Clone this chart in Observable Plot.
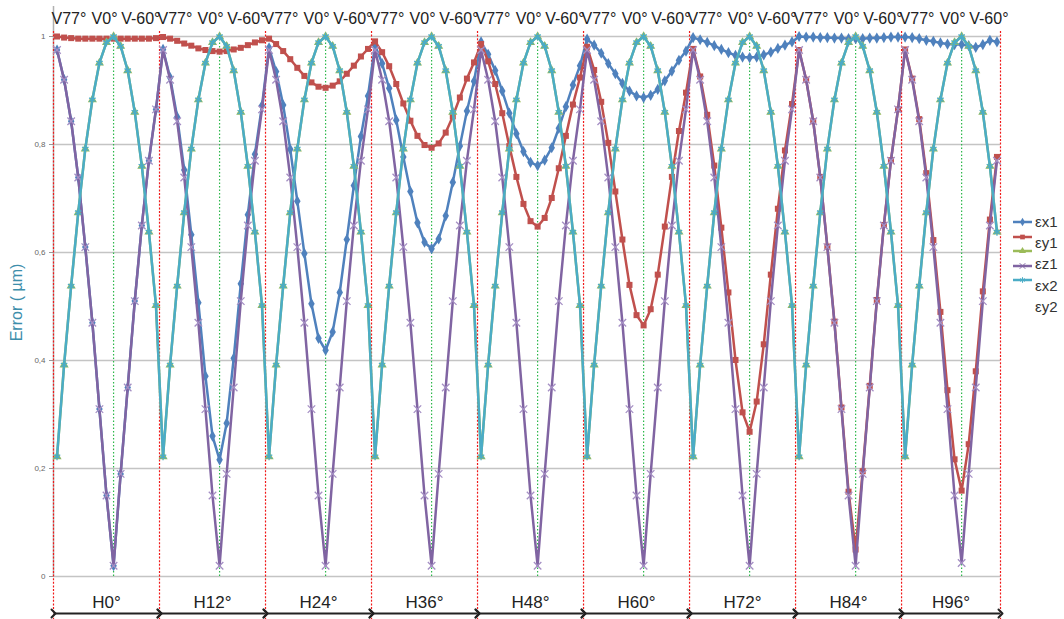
<!DOCTYPE html>
<html><head><meta charset="utf-8">
<script src="https://cdn.jsdelivr.net/npm/d3@7"></script>
<script src="https://cdn.jsdelivr.net/npm/@observablehq/plot@0.6"></script>
<style>
body{margin:0;background:#fff;font-family:"Liberation Sans",Arial,sans-serif;}
#wrap{position:relative;width:1064px;height:619px;overflow:hidden;}
#legend{position:absolute;left:1005px;top:210px;}
</style></head><body><div id="wrap"></div>
<script>
// ---- data ----
const hAngles = ["H0°","H12°","H24°","H36°","H48°","H60°","H72°","H84°","H96°"];
const vLabels = ["V77°","V0°","V-60°"];
const v0Index = 8;            // V0° is the 9th point of every H group
const pointsPerGroup = 15;    // V77° ... V0° ... V-60°
const yTicks = [0,0.2,0.4,0.6,0.8,1];

const seriesNames   = ["εx1","εy1","εz1","εx2","εy2"];
const seriesColors  = ["#4F81BD","#C0504D","#9BBB59","#8064A2","#4BACC6"];
const seriesSymbols = ["diamond","square","triangle","times","asterisk"];

const ex1 = [
 [0.975,0.92,0.843,0.739,0.61,0.47,0.31,0.15,0.02,0.19,0.35,0.51,0.65,0.77,0.865],
 [0.976,0.924,0.851,0.753,0.633,0.507,0.371,0.26,0.216,0.284,0.404,0.542,0.67,0.782,0.872],
 [0.979,0.935,0.873,0.791,0.695,0.598,0.505,0.441,0.419,0.453,0.526,0.624,0.724,0.815,0.89],
 [0.984,0.95,0.904,0.845,0.777,0.713,0.655,0.619,0.607,0.625,0.668,0.73,0.797,0.862,0.917],
 [0.99,0.967,0.937,0.899,0.858,0.82,0.787,0.767,0.761,0.771,0.794,0.83,0.87,0.91,0.946],
 [0.995,0.984,0.969,0.95,0.931,0.913,0.899,0.89,0.887,0.891,0.902,0.918,0.936,0.956,0.973],
 [0.998,0.994,0.989,0.983,0.976,0.97,0.965,0.962,0.961,0.962,0.966,0.971,0.978,0.984,0.99],
 [1.0,0.999,0.999,0.998,0.998,0.997,0.997,0.996,0.996,0.996,0.997,0.997,0.998,0.999,0.999],
 [0.999,0.998,0.996,0.993,0.991,0.988,0.986,0.985,0.985,0.983,0.98,0.985,0.993,0.99]
];
const ey1 = [
 [1.0,0.998,0.997,0.996,0.996,0.996,0.996,0.996,0.996,0.996,0.996,0.996,0.996,0.996,0.997],
 [0.999,0.996,0.992,0.987,0.983,0.978,0.975,0.973,0.972,0.973,0.976,0.979,0.984,0.989,0.993],
 [0.996,0.986,0.973,0.958,0.942,0.927,0.915,0.907,0.905,0.909,0.917,0.931,0.946,0.963,0.977],
 [0.991,0.971,0.945,0.912,0.876,0.844,0.816,0.799,0.794,0.802,0.822,0.852,0.887,0.922,0.952],
 [0.986,0.954,0.912,0.858,0.797,0.74,0.69,0.658,0.648,0.664,0.701,0.756,0.816,0.874,0.924],
 [0.981,0.938,0.879,0.803,0.713,0.624,0.54,0.484,0.465,0.495,0.559,0.648,0.74,0.825,0.896],
 [0.977,0.926,0.855,0.761,0.646,0.526,0.401,0.304,0.268,0.324,0.43,0.559,0.681,0.789,0.875],
 [0.975,0.92,0.843,0.74,0.611,0.472,0.313,0.157,0.05,0.195,0.353,0.512,0.651,0.771,0.865],
 [0.976,0.922,0.847,0.747,0.623,0.49,0.345,0.217,0.159,0.245,0.38,0.528,0.661,0.777]
];
const ez1 = [
 [0.222,0.392,0.538,0.674,0.792,0.883,0.951,0.989,1.0,0.982,0.937,0.86,0.76,0.638,0.502],
 [0.222,0.392,0.538,0.674,0.792,0.883,0.951,0.989,1.0,0.982,0.937,0.86,0.76,0.638,0.502],
 [0.222,0.392,0.538,0.674,0.792,0.883,0.951,0.989,1.0,0.982,0.937,0.86,0.76,0.638,0.502],
 [0.222,0.392,0.538,0.674,0.792,0.883,0.951,0.989,1.0,0.982,0.937,0.86,0.76,0.638,0.502],
 [0.222,0.392,0.538,0.674,0.792,0.883,0.951,0.989,1.0,0.982,0.937,0.86,0.76,0.638,0.502],
 [0.222,0.392,0.538,0.674,0.792,0.883,0.951,0.989,1.0,0.982,0.937,0.86,0.76,0.638,0.502],
 [0.222,0.392,0.538,0.674,0.792,0.883,0.951,0.989,1.0,0.982,0.937,0.86,0.76,0.638,0.502],
 [0.222,0.392,0.538,0.674,0.792,0.883,0.951,0.989,1.0,0.982,0.937,0.86,0.76,0.638,0.502],
 [0.222,0.392,0.538,0.674,0.792,0.883,0.951,0.989,1.0,0.982,0.937,0.86,0.76,0.638]
];
const ex2 = [
 [0.975,0.92,0.843,0.739,0.61,0.47,0.31,0.15,0.02,0.19,0.35,0.51,0.65,0.77,0.865],
 [0.975,0.92,0.843,0.739,0.61,0.47,0.31,0.15,0.02,0.19,0.35,0.51,0.65,0.77,0.865],
 [0.975,0.92,0.843,0.739,0.61,0.47,0.31,0.15,0.02,0.19,0.35,0.51,0.65,0.77,0.865],
 [0.975,0.92,0.843,0.739,0.61,0.47,0.31,0.15,0.02,0.19,0.35,0.51,0.65,0.77,0.865],
 [0.975,0.92,0.843,0.739,0.61,0.47,0.31,0.15,0.02,0.19,0.35,0.51,0.65,0.77,0.865],
 [0.975,0.92,0.843,0.739,0.61,0.47,0.31,0.15,0.02,0.19,0.35,0.51,0.65,0.77,0.865],
 [0.975,0.92,0.843,0.739,0.61,0.47,0.31,0.15,0.02,0.19,0.35,0.51,0.65,0.77,0.865],
 [0.975,0.92,0.843,0.739,0.61,0.47,0.31,0.15,0.02,0.19,0.35,0.51,0.65,0.77,0.865],
 [0.975,0.92,0.843,0.739,0.61,0.47,0.31,0.15,0.025,0.19,0.35,0.51,0.65,0.77]
];
const ey2 = [
 [0.222,0.392,0.538,0.674,0.792,0.883,0.951,0.989,1.0,0.982,0.937,0.86,0.76,0.638,0.502],
 [0.222,0.392,0.538,0.674,0.792,0.883,0.951,0.989,1.0,0.982,0.937,0.86,0.76,0.638,0.502],
 [0.222,0.392,0.538,0.674,0.792,0.883,0.951,0.989,1.0,0.982,0.937,0.86,0.76,0.638,0.502],
 [0.222,0.392,0.538,0.674,0.792,0.883,0.951,0.989,1.0,0.982,0.937,0.86,0.76,0.638,0.502],
 [0.222,0.392,0.538,0.674,0.792,0.883,0.951,0.989,1.0,0.982,0.937,0.86,0.76,0.638,0.502],
 [0.222,0.392,0.538,0.674,0.792,0.883,0.951,0.989,1.0,0.982,0.937,0.86,0.76,0.638,0.502],
 [0.222,0.392,0.538,0.674,0.792,0.883,0.951,0.989,1.0,0.982,0.937,0.86,0.76,0.638,0.502],
 [0.222,0.392,0.538,0.674,0.792,0.883,0.951,0.989,1.0,0.982,0.937,0.86,0.76,0.638,0.502],
 [0.222,0.392,0.538,0.674,0.792,0.883,0.951,0.989,1.0,0.982,0.937,0.86,0.76,0.638]
];
const allSeries = [ex1, ey1, ez1, ex2, ey2];

// ---- build tables ----
const rows = [];
allSeries.forEach((groups, k) => groups.forEach((vals, g) => vals.forEach((v, i) =>
  rows.push({series: seriesNames[k], k, pos: g * pointsPerGroup + i + 0.5, value: v}))));
const totalPoints = d3.sum(ex1, a => a.length);
const groupStarts = hAngles.map((h, g) => g * pointsPerGroup);
const separators = [...groupStarts, totalPoints];
const groups = hAngles.map((h, g) => ({label: h, start: separators[g], end: separators[g + 1],
  v0: g * pointsPerGroup + v0Index + 0.5, groupEnd: (g + 1) * pointsPerGroup}));

const marks = [
  Plot.gridY(yTicks, {stroke: "#c4c4c4", strokeOpacity: 1, strokeWidth: 1.5}),
  Plot.ruleX([0], {stroke: "#b0b0b0", strokeWidth: 1.5, insetTop: -30}),
  Plot.axisY({ticks: yTicks, tickFormat: d => String(d).replace(".", ","), fontSize: 8,
    tickSize: 4, tickPadding: 4, stroke: "#999", fill: "#666", label: null}),
  Plot.ruleX(separators, {stroke: "#f01818", strokeWidth: 1.2, strokeDasharray: "2,1.6", insetTop: -5, insetBottom: -43}),
  Plot.ruleX(groups, {x: "v0", y1: 0, y2: 1, stroke: "#2cb84a", strokeWidth: 1.2, strokeDasharray: "1.5,2"})
];
seriesNames.forEach((name, k) => {
  const data = rows.filter(r => r.k === k);
  const stroky = seriesSymbols[k] === "times" || seriesSymbols[k] === "asterisk";
  marks.push(Plot.line(data, {x: "pos", y: "value", stroke: seriesColors[k], strokeWidth: 2.5}));
  marks.push(Plot.dot(data, stroky
    ? {x: "pos", y: "value", symbol: () => seriesSymbols[k], r: 3.5, stroke: k === 3 ? "#a58fc4" : seriesColors[k], strokeWidth: 1.3, fill: "none"}
    : {x: "pos", y: "value", symbol: () => seriesSymbols[k], r: 3.4, fill: seriesColors[k], stroke: "none"}));
});
marks.push(
  Plot.text(groups, {x: "start", y: 1, dy: -18, dx: -2, text: () => vLabels[0], textAnchor: "start", fontSize: 16, fill: "#222"}),
  Plot.text(groups, {x: "v0", y: 1, dy: -18, dx: 4, text: () => vLabels[1], textAnchor: "end", fontSize: 16, fill: "#222"}),
  Plot.text(groups, {x: "groupEnd", y: 1, dy: -18, dx: 1, text: () => vLabels[2], textAnchor: "end", fontSize: 16, fill: "#222"}),
  Plot.text(groups, {x: d => (d.start + d.end) / 2, y: 0, dy: 26, text: "label", fontSize: 17, fill: "#222"}),
  Plot.link(groups, {x1: "start", x2: "end", y1: 0, y2: 0, dy: 37, stroke: "#222", strokeWidth: 2,
    markerStart: "arrow", markerEnd: "arrow", insetLeft: 2, insetRight: 2}),
  Plot.text(["Error ( µm)"], {frameAnchor: "left", rotate: -90, dx: -37, dy: -4, textAnchor: "middle",
    fontSize: 16, fill: "#3d8eab"})
);

const chart = Plot.plot({
  width: 1064, height: 619,
  marginLeft: 53, marginRight: 64, marginTop: 36, marginBottom: 43,
  x: {domain: [0, totalPoints], axis: null},
  y: {domain: [0, 1], axis: null},
  style: {fontFamily: "Liberation Sans, Arial, sans-serif", background: "white", overflow: "visible"},
  marks
});
document.getElementById("wrap").appendChild(chart);

// ---- legend ----
const lg = d3.select("#wrap").append("svg").attr("id", "legend").attr("width", 59).attr("height", 110)
  .style("font-family", "Liberation Sans, Arial, sans-serif");
const lineY = [12, 27, 41, 56, 70];
const textY = [13, 34, 55, 77, 98];
seriesNames.forEach((name, k) => {
  lg.append("line").attr("x1", 8).attr("x2", 27).attr("y1", lineY[k]).attr("y2", lineY[k])
    .attr("stroke", seriesColors[k]).attr("stroke-width", 2.5);
  const sym = d3.symbol().type({diamond: d3.symbolDiamond, square: d3.symbolSquare, triangle: d3.symbolTriangle,
    times: d3.symbolTimes, asterisk: d3.symbolAsterisk}[seriesSymbols[k]]).size(22);
  const stroky = k >= 3;
  lg.append("path").attr("d", sym()).attr("transform", `translate(17.5,${lineY[k]})`)
    .attr("fill", stroky ? "none" : seriesColors[k]).attr("stroke", stroky ? seriesColors[k] : "none");
  lg.append("text").attr("x", 30).attr("y", textY[k]).attr("dominant-baseline", "middle")
    .attr("font-size", 15).attr("fill", "#333").text(name);
});
</script></body></html>
